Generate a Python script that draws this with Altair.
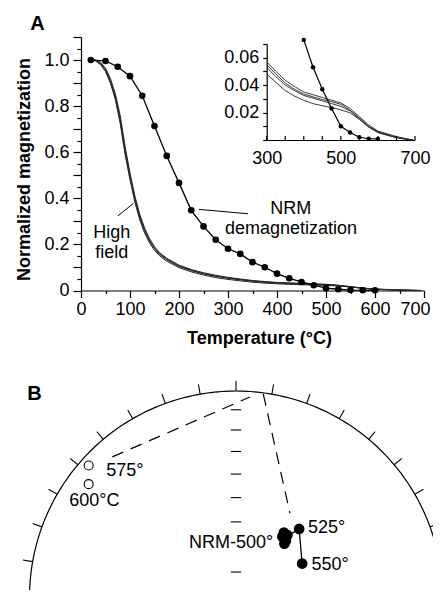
import altair as alt
import pandas as pd
import numpy as np

# ------------------------------------------------------------------
# Panel A data
# ------------------------------------------------------------------
nrm_temp = [20, 50, 75, 100, 125, 150, 175, 200, 225, 250, 275, 300,
            325, 350, 375, 400, 425, 450, 475, 500, 525, 550, 575, 600]
nrm_mag = [1.0, 0.996, 0.971, 0.930, 0.845, 0.714, 0.584, 0.467, 0.348,
           0.278, 0.220, 0.181, 0.159, 0.123, 0.101, 0.073, 0.053, 0.037,
           0.023, 0.010, 0.0055, 0.002, 0.0009, 0.0008]

hf_temp = [20, 30, 40, 50, 60, 70, 80, 90, 100, 110, 120, 130, 140, 150,
           160, 175, 200, 225, 250, 275, 300, 325, 350, 375, 400, 425, 450,
           475, 500, 525, 550, 575, 600, 625, 650, 675, 695]
hf_run1 = [1.0, 1.0, 0.99, 0.965, 0.92, 0.855, 0.76, 0.625, 0.51, 0.41,
           0.33, 0.27, 0.225, 0.19, 0.165, 0.14, 0.11, 0.091, 0.077, 0.066,
           0.057, 0.050, 0.0435, 0.039, 0.035, 0.033, 0.031, 0.029, 0.027,
           0.023, 0.017, 0.011, 0.0065, 0.0045, 0.0025, 0.001, 0.0]
hf_run2 = [1.0, 0.998, 0.985, 0.96, 0.91, 0.845, 0.745, 0.61, 0.5, 0.4,
           0.322, 0.263, 0.218, 0.185, 0.161, 0.136, 0.107, 0.088, 0.074,
           0.063, 0.055, 0.048, 0.0415, 0.037, 0.0335, 0.0315, 0.0295,
           0.028, 0.026, 0.0217, 0.016, 0.010, 0.006, 0.004, 0.002, 0.0008, 0.0]
hf_run3 = [1.0, 0.997, 0.982, 0.955, 0.905, 0.835, 0.735, 0.6, 0.49, 0.392,
           0.315, 0.257, 0.213, 0.181, 0.157, 0.133, 0.104, 0.086, 0.072,
           0.061, 0.053, 0.046, 0.040, 0.036, 0.0325, 0.0305, 0.0285,
           0.0266, 0.0245, 0.0212, 0.0155, 0.0095, 0.0055, 0.0035, 0.0018,
           0.0006, 0.0]
hf_run4 = [1.0, 0.996, 0.98, 0.95, 0.9, 0.83, 0.725, 0.59, 0.48, 0.383,
           0.305, 0.248, 0.205, 0.174, 0.151, 0.127, 0.099, 0.081, 0.067,
           0.056, 0.048, 0.042, 0.036, 0.032, 0.029, 0.0265, 0.025, 0.0237,
           0.022, 0.0198, 0.015, 0.0095, 0.0055, 0.0035, 0.0018, 0.0006, 0.0]

x_ticks_major = list(range(0, 701, 100))
x_ticks_minor = list(range(50, 701, 100))
y_ticks_major = [round(0.1 * i, 1) for i in range(12)]
y_ticks_minor = [round(0.05 + 0.1 * i, 2) for i in range(11)]
inset_x_ticks = list(range(300, 701, 50))
inset_x_labels = [300, 500, 700]
inset_y_ticks = [round(0.01 * i, 2) for i in range(8)]

# ------------------------------------------------------------------
# Panel B data (equal-area projection, unit radius: east, north)
# ------------------------------------------------------------------
nrm500_east = [0.2246, 0.2319, 0.2415, 0.2343, 0.2488]
nrm500_north = [0.2947, 0.314, 0.2754, 0.2609, 0.3019]
step_labels = ['525°', '550°']
step_east = [0.3058, 0.3203]
step_north = [0.3319, 0.1643]
upper_labels = ['575°', '600°C']
upper_east = [-0.7135, -0.7135]
upper_north = [0.639, 0.549]
gc1_east = [-0.599, 0.0676]
gc1_north = [0.681, 0.971]
gc2_east = [0.132, 0.261]
gc2_north = [0.986, 0.409]
net_dec_ticks = list(range(-80, 81, 10))
net_inc_ticks = [10, 20, 30, 40, 50, 60, 70, 80]

# ------------------------------------------------------------------
FONT = 'Liberation Sans'
W, H = 425, 582
HF_COLOR = '#262626'

xA = alt.Scale(domain=[0, 700], range=[73, 416], nice=False, zero=False)
yA = alt.Scale(domain=[0, 1.1], range=[282.5, 29], nice=False, zero=False)
xI = alt.Scale(domain=[300, 700], range=[258.7, 407], nice=False, zero=False)
yI = alt.Scale(domain=[0, 0.07], range=[132, 36], nice=False, zero=False)
xB = alt.Scale(domain=[-1, 1], range=[21.5, 434.5], nice=False, zero=False)
yB = alt.Scale(domain=[0, 1], range=[589.5, 383], nice=False, zero=False)

hf_df = pd.concat([
    pd.DataFrame({'T': hf_temp, 'M': r, 'run': name})
    for name, r in [('1', hf_run1), ('2', hf_run2), ('3', hf_run3), ('4', hf_run4)]
])
nrm_df = pd.DataFrame({'T': nrm_temp, 'M': nrm_mag})

ax_x_major = alt.Axis(orient='bottom', offset=-(H - 282.5), values=x_ticks_major,
                      format='d', tickSize=7, labelPadding=3, labelFontSize=18,
                      labelFlush=False,
                      labelOffset={"condition": {"test": "datum.value == 700", "value": -9},
                                   "value": 0},
                      title='Temperature (°C)', titleFontSize=18, titleFontWeight='bold',
                      titleX=251, titleY=47.5, titleBaseline='middle', titleAlign='center',
                      grid=False, domainWidth=1.2, tickWidth=1.2)
ax_y_major = alt.Axis(orient='left', offset=-73, values=y_ticks_major, tickSize=8,
                      labelPadding=4, labelFontSize=18, labelFlush=False,
                      labelExpr="(round(datum.value*10) % 2 == 0) ? (datum.value == 0 ? '0' : format(datum.value, '.1f')) : ''",
                      title='Normalized magnetization', titleFontSize=18,
                      titleFontWeight='bold', titleX=-57, titleY=161,
                      titleBaseline='middle', titleAlign='center',
                      grid=False, domainWidth=1.2, tickWidth=1.2)
ax_x_minor = alt.Axis(orient='bottom', offset=-(H - 282.5), values=x_ticks_minor,
                      tickSize=3, labels=False, domain=False, title=None, grid=False,
                      tickWidth=1.2)
ax_y_minor = alt.Axis(orient='left', offset=-73, values=y_ticks_minor, tickSize=4,
                      labels=False, domain=False, title=None, grid=False, tickWidth=1.2)

hf_main = alt.Chart(hf_df).mark_line(color=HF_COLOR, strokeWidth=1.0).encode(
    x=alt.X('T:Q', scale=xA, axis=ax_x_major),
    y=alt.Y('M:Q', scale=yA, axis=ax_y_major),
    detail='run:N')
nrm_line = alt.Chart(nrm_df).mark_line(color='black', strokeWidth=1.3).encode(
    x=alt.X('T:Q', scale=xA, axis=ax_x_minor),
    y=alt.Y('M:Q', scale=yA, axis=ax_y_minor))
nrm_pts = alt.Chart(nrm_df).mark_circle(size=44, color='black', opacity=1).encode(
    x=alt.X('T:Q', scale=xA, axis=None),
    y=alt.Y('M:Q', scale=yA, axis=None))

ann_text = pd.DataFrame({
    'label': ['High', 'field', 'NRM', 'demagnetization'],
    'T': [62.6, 62.6, 428, 428.6],
    'M': [0.25, 0.163, 0.352, 0.265]})
ann_lines = pd.DataFrame({'T': [75.5, 240.8], 'M': [0.324, 0.352],
                          'T2': [107, 340.8], 'M2': [0.378, 0.333]})
ann_t = alt.Chart(ann_text).mark_text(font=FONT, fontSize=18, color='black',
                                      align='center', baseline='middle').encode(
    x=alt.X('T:Q', scale=xA, axis=None), y=alt.Y('M:Q', scale=yA, axis=None),
    text='label:N')
ann_l = alt.Chart(ann_lines).mark_rule(color='black', strokeWidth=1).encode(
    x=alt.X('T:Q', scale=xA, axis=None), y=alt.Y('M:Q', scale=yA, axis=None),
    x2='T2:Q', y2='M2:Q')

# ---- inset ----
hf_in = hf_df[hf_df['T'] >= 300]
nrm_in = nrm_df[nrm_df['T'] >= 400]
ax_ix = alt.Axis(orient='bottom', offset=-(H - 132), values=inset_x_labels, format='d',
                 ticks=False, labelPadding=9, labelFontSize=18, labelFlush=False,
                 title=None, grid=False, domainWidth=1.2)
ax_iy = alt.Axis(orient='left', offset=-258.7, values=inset_y_ticks, tickSize=4,
                 labelPadding=4, labelFontSize=18, labelFlush=False,
                 labelExpr="(round(datum.value*100) % 2 == 0 && datum.value > 0) ? format(datum.value, '.2f') : ''",
                 title=None, grid=False, domainWidth=1.2, tickWidth=1.2)
hf_inset = alt.Chart(hf_in).mark_line(color=HF_COLOR, strokeWidth=0.9).encode(
    x=alt.X('T:Q', scale=xI, axis=ax_ix),
    y=alt.Y('M:Q', scale=yI, axis=ax_iy),
    detail='run:N')
nrm_in_line = alt.Chart(nrm_in).mark_line(color='black', strokeWidth=1.2).encode(
    x=alt.X('T:Q', scale=xI, axis=None), y=alt.Y('M:Q', scale=yI, axis=None))
nrm_in_pts = alt.Chart(nrm_in).mark_circle(size=20, color='black', opacity=1).encode(
    x=alt.X('T:Q', scale=xI, axis=None), y=alt.Y('M:Q', scale=yI, axis=None))
inset_tick_df = pd.DataFrame({'T': inset_x_ticks, 'y0': 0.0, 'y1': 0.003})
inset_ticks = alt.Chart(inset_tick_df).mark_rule(color='black', strokeWidth=1.2).encode(
    x=alt.X('T:Q', scale=xI, axis=None), y=alt.Y('y0:Q', scale=yI, axis=None), y2='y1:Q')

# ---- stereonet (panel B) ----
ang = np.arange(-90, 90.5, 1.0)
circle_df = pd.DataFrame({'i': np.arange(len(ang)),
                          'e': np.sin(np.radians(ang)), 'n': np.cos(np.radians(ang))})
d = np.radians(net_dec_ticks)
dec_tick_df = pd.DataFrame({'e': np.sin(d), 'n': np.cos(d),
                            'e2': 1.048 * np.sin(d), 'n2': 1.048 * np.cos(d)})
r_inc = np.sqrt(2) * np.sin(np.radians((90 - np.array(net_inc_ticks)) / 2.0))
vert_df = pd.DataFrame({'n': [r for r, inc in zip(r_inc, net_inc_ticks) if inc != 70]})
vert_df['e'] = -0.025
vert_df['e2'] = 0.025
horiz_pos = np.concatenate([-r_inc, [0.0], r_inc])
horiz_df = pd.DataFrame({'e': horiz_pos, 'n': 0.0, 'n2': 0.02})
base_df = pd.DataFrame({'e': [-1.0], 'e2': [1.0], 'n': [0.0]})

def enc_b(chart, **kw):
    return chart.encode(x=alt.X('e:Q', scale=xB, axis=None),
                        y=alt.Y('n:Q', scale=yB, axis=None), **kw)

net_circle = enc_b(alt.Chart(circle_df).mark_line(color='black', strokeWidth=1.2),
                   order='i:Q')
net_dec = enc_b(alt.Chart(dec_tick_df).mark_rule(color='black', strokeWidth=1.1),
                x2='e2:Q', y2='n2:Q')
net_vert = enc_b(alt.Chart(vert_df).mark_rule(color='black', strokeWidth=1.1), x2='e2:Q')
net_hz = enc_b(alt.Chart(horiz_df).mark_rule(color='black', strokeWidth=1.1), y2='n2:Q')
net_base = enc_b(alt.Chart(base_df).mark_rule(color='black', strokeWidth=1.2), x2='e2:Q')

gc_df = pd.concat([pd.DataFrame({'e': gc1_east, 'n': gc1_north, 'g': 'a', 'i': [0, 1]}),
                   pd.DataFrame({'e': gc2_east, 'n': gc2_north, 'g': 'b', 'i': [0, 1]})])
net_gc = enc_b(alt.Chart(gc_df).mark_line(color='black', strokeWidth=1.2,
                                          strokeDash=[12, 8]),
               detail='g:N', order='i:Q')

path_df = pd.DataFrame({'e': [float(np.mean(nrm500_east))] + step_east,
                        'n': [float(np.mean(nrm500_north))] + step_north,
                        'i': [0, 1, 2]})
net_path = enc_b(alt.Chart(path_df).mark_line(color='black', strokeWidth=1.3), order='i:Q')

lower_df = pd.DataFrame({'e': nrm500_east + step_east, 'n': nrm500_north + step_north})
net_lower = enc_b(alt.Chart(lower_df).mark_circle(size=115, color='black', opacity=1))
upper_df = pd.DataFrame({'e': upper_east, 'n': upper_north})
net_upper = enc_b(alt.Chart(upper_df).mark_point(shape='circle', size=80, filled=False,
                                                 color='black', strokeWidth=1.1, opacity=1))

lab_df = pd.DataFrame({
    'label': [upper_labels[0], step_labels[0], step_labels[1]],
    'e': [-0.628, 0.349, 0.366], 'n': [0.6135, 0.338, 0.159]})
net_lab_left = enc_b(alt.Chart(lab_df).mark_text(font=FONT, fontSize=18, color='black',
                                                 align='left', baseline='middle'),
                     text='label:N')
lab_c_df = pd.DataFrame({'label': [upper_labels[1]], 'e': [-0.686], 'n': [0.466]})
net_lab_c = enc_b(alt.Chart(lab_c_df).mark_text(font=FONT, fontSize=18, color='black',
                                                align='center', baseline='middle'),
                  text='label:N')
lab_r_df = pd.DataFrame({'label': ['NRM-500°'], 'e': [0.180], 'n': [0.264]})
net_lab_r = enc_b(alt.Chart(lab_r_df).mark_text(font=FONT, fontSize=18, color='black',
                                                align='right', baseline='middle'),
                  text='label:N')

panel_df = pd.DataFrame({'t': ['A', 'B'], 'px': [29.5, 26.5], 'py': [15.5, 385.5]})
panel_lab = alt.Chart(panel_df).mark_text(font=FONT, fontSize=20, fontWeight='bold',
                                          color='black', align='center',
                                          baseline='middle').encode(
    x=alt.X('px:Q', scale=None, axis=None), y=alt.Y('py:Q', scale=None, axis=None),
    text='t:N')

chart = alt.layer(
    hf_main, nrm_line, nrm_pts, ann_l, ann_t,
    hf_inset, nrm_in_line, nrm_in_pts, inset_ticks,
    net_circle, net_dec, net_vert, net_hz, net_base, net_gc, net_path,
    net_lower, net_upper, net_lab_left, net_lab_c, net_lab_r,
    panel_lab
).resolve_scale(x='independent', y='independent').properties(
    width=W, height=H, padding=0,
    autosize=alt.AutoSizeParams(type='none')
).configure_view(stroke=None).configure_axis(
    labelFont=FONT, titleFont=FONT, labelColor='black', titleColor='black',
    domainColor='black', tickColor='black'
)

chart.save("out.html", embed_options={"renderer": "svg", "actions": False})
